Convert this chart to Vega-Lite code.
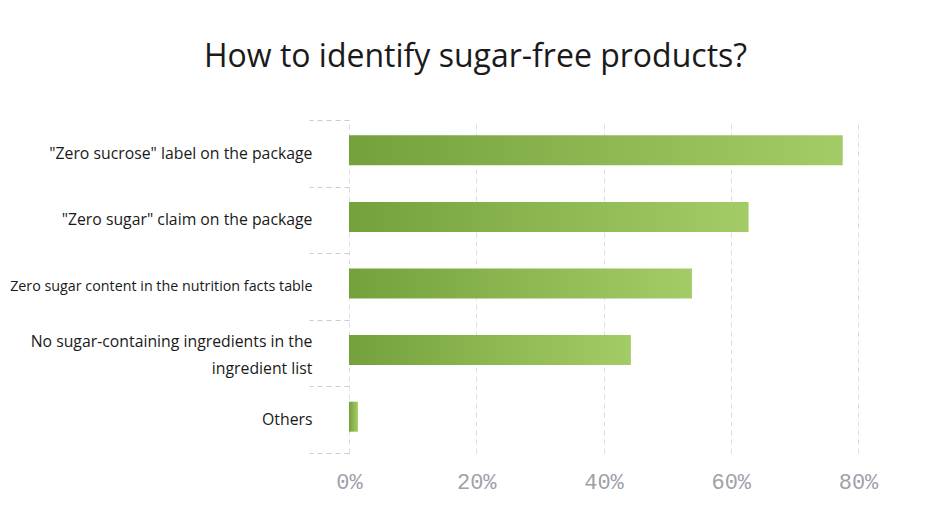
{
  "$schema": "https://vega.github.io/schema/vega-lite/v6.json",
  "width": 509,
  "height": 333,
  "autosize": "none",
  "padding": {"left": 349, "top": 120, "right": 69, "bottom": 60},
  "background": "white",
  "title": {
    "text": "How to identify sugar-free products?",
    "font": "Open Sans",
    "fontSize": 32,
    "fontWeight": "normal",
    "color": "#1a1a1a",
    "anchor": "middle",
    "baseline": "alphabetic",
    "offset": 13,
    "dx": -128
  },
  "data": {
    "values": [
      {"method": "\"Zero sucrose\" label on the package", "share": 0.776},
      {"method": "\"Zero sugar\" claim on the package", "share": 0.628},
      {"method": "Zero sugar content in the nutrition facts table", "share": 0.539},
      {"method": "No sugar-containing ingredients in the ingredient list", "share": 0.443},
      {"method": "Others", "share": 0.014}
    ]
  },
  "mark": {
    "type": "bar",
    "height": 30,
    "yOffset": -3,
    "color": {
      "gradient": "linear",
      "x1": 0, "x2": 1, "y1": 0, "y2": 0,
      "stops": [
        {"offset": 0, "color": "#74a13c"},
        {"offset": 1, "color": "#a4cc66"}
      ]
    }
  },
  "encoding": {
    "y": {
      "field": "method",
      "type": "nominal",
      "sort": null,
      "title": null,
      "scale": {"paddingInner": 0, "paddingOuter": 0},
      "axis": {
        "domain": false,
        "grid": false,
        "tickBand": "extent",
        "tickSize": 40,
        "tickColor": "#cccccc",
        "tickDash": [5, 4],
        "labelPadding": -3,
        "labelFont": "Open Sans",
        "labelFontSize": {"expr": "datum.value == 'Zero sugar content in the nutrition facts table' ? 14.3 : 15.8"},
        "labelOffset": {"expr": "datum.value == 'No sugar-containing ingredients in the ingredient list' ? -12 : 0"},
        "labelColor": "#1a1a1a",
        "labelLimit": 400,
        "labelLineHeight": 27,
        "labelExpr": "datum.value == 'No sugar-containing ingredients in the ingredient list' ? ['No sugar-containing ingredients in the', 'ingredient list'] : datum.value"
      }
    },
    "x": {
      "field": "share",
      "type": "quantitative",
      "title": null,
      "scale": {"domain": [0, 0.8], "nice": false},
      "axis": {
        "format": "%",
        "values": [0, 0.2, 0.4, 0.6, 0.8],
        "domain": false,
        "ticks": false,
        "grid": true,
        "gridColor": "#dddddd",
        "gridDash": [5, 4],
        "labelFlush": false,
        "labelFont": "Liberation Mono",
        "labelFontSize": 22,
        "labelColor": "#a0a0aa",
        "labelPadding": 18
      }
    }
  },
  "config": {"view": {"stroke": null}}
}
